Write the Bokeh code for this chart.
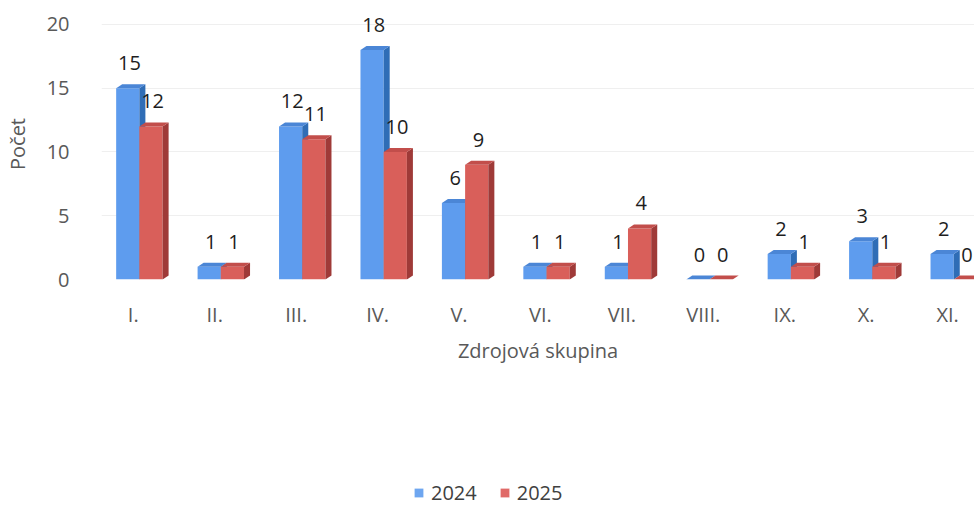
import numpy as np
from bokeh.plotting import figure
from bokeh.layouts import column
from bokeh.models import ColumnDataSource, FixedTicker, LabelSet, Legend, LegendItem
from bokeh.core.properties import value
from bokeh.embed import file_html
from bokeh.resources import INLINE

# ---- data ----
categories = ["I.", "II.", "III.", "IV.", "V.", "VI.", "VII.", "VIII.", "IX.", "X.", "XI."]
series_names = ["2024", "2025"]
values_2024 = [15, 1, 12, 18, 6, 1, 1, 0, 2, 3, 2]
values_2025 = [12, 1, 11, 10, 9, 1, 4, 0, 1, 1, 0]
y_ticks = [0, 5, 10, 15, 20]

# ---- style ----
FONT = "Open Sans"
BAR_W = 0.285
BLUE_LEFT = -0.21
DX = 0.074
DY = 0.31

styles = [
    dict(front="#5e9cee", side="#2f6db6", top="#4b86d6", legend="#6ea6f0"),
    dict(front="#d95f5a", side="#9f3a38", top="#c24e4b", legend="#e06a68"),
]

p = figure(width=974, height=470, output_backend="svg", toolbar_location=None,
           x_range=(-0.39, 10.33), y_range=(0, 21.25),
           min_border_left=100, min_border_right=0, min_border_top=8,
           min_border_bottom=191)
p.outline_line_color = None
p.background_fill_color = "white"
p.border_fill_color = "white"

xs = np.arange(len(categories))
for i, vals in enumerate([values_2024, values_2025]):
    vals = np.array(vals, dtype=float)
    left = xs + BLUE_LEFT + i * BAR_W
    right = left + BAR_W
    st = styles[i]
    p.quad(left=left, right=right, bottom=0, top=vals,
           fill_color=st["front"], line_color=None)
    side_x = [[rr, rr + DX, rr + DX, rr] for rr in right]
    side_y = [[0, DY, v + DY, v] for v in vals]
    p.patches(side_x, side_y, fill_color=st["side"], line_color=None)
    top_x = [[l, rr, rr + DX, l + DX] for l, rr in zip(left, right)]
    top_y = [[v, v, v + DY, v + DY] for v in vals]
    p.patches(top_x, top_y, fill_color=st["top"], line_color=None)
    src = ColumnDataSource(dict(x=(left + right) / 2 + 0.02, y=vals,
                                t=[str(int(v)) for v in vals]))
    p.add_layout(LabelSet(x="x", y="y", text="t", source=src, y_offset=25,
                          text_align="center", text_baseline="middle",
                          text_font=value(FONT), text_font_size=value("20px"),
                          text_color="#1e1e1e"))

# axes
p.xaxis.ticker = FixedTicker(ticks=list(xs))
p.xaxis.major_label_overrides = {int(k): c for k, c in zip(xs, categories)}
p.xaxis.major_label_standoff = 21
p.xaxis.axis_label = "Zdrojová skupina"
p.xaxis.axis_label_standoff = 6

p.yaxis.ticker = FixedTicker(ticks=y_ticks)
p.yaxis.major_label_standoff = 32
p.yaxis.axis_label = "Počet"
p.yaxis.axis_label_standoff = 13

for ax in (p.xaxis, p.yaxis):
    ax.axis_line_color = None
    ax.major_tick_line_color = None
    ax.minor_tick_line_color = None
    ax.major_tick_out = 0
    ax.major_tick_in = 0
    ax.minor_tick_out = 0
    ax.major_label_text_font = FONT
    ax.major_label_text_font_size = "20px"
    ax.major_label_text_color = "#595959"
    ax.axis_label_text_font = FONT
    ax.axis_label_text_font_size = "20px"
    ax.axis_label_text_color = "#595959"
    ax.axis_label_text_font_style = "normal"

p.xgrid.grid_line_color = None
p.ygrid.ticker = FixedTicker(ticks=y_ticks)
p.ygrid.grid_line_color = "#efefef"

# legend panel below the chart
pl = figure(width=974, height=36, output_backend="svg", toolbar_location=None,
            x_range=(0, 1), y_range=(0, 1), x_axis_location=None,
            y_axis_location=None, min_border=0)
pl.outline_line_color = None
pl.xgrid.grid_line_color = None
pl.ygrid.grid_line_color = None
items = []
for k in range(2):
    r = pl.quad(left=[np.nan], right=[np.nan], bottom=[np.nan], top=[np.nan],
                fill_color=styles[k]["legend"], line_color=None)
    items.append(LegendItem(label=series_names[k], renderers=[r]))
legend = Legend(items=items, orientation="horizontal", location=(312, 0),
                glyph_width=11, glyph_height=11, label_standoff=7, spacing=22,
                label_height=24, padding=0, margin=0, border_line_color=None,
                background_fill_alpha=0,
                label_text_font=FONT, label_text_font_size="20px",
                label_text_color="#404040")
pl.add_layout(legend)

layout = column(p, pl, spacing=0)
open("out.html", "w").write(file_html(layout, INLINE))
